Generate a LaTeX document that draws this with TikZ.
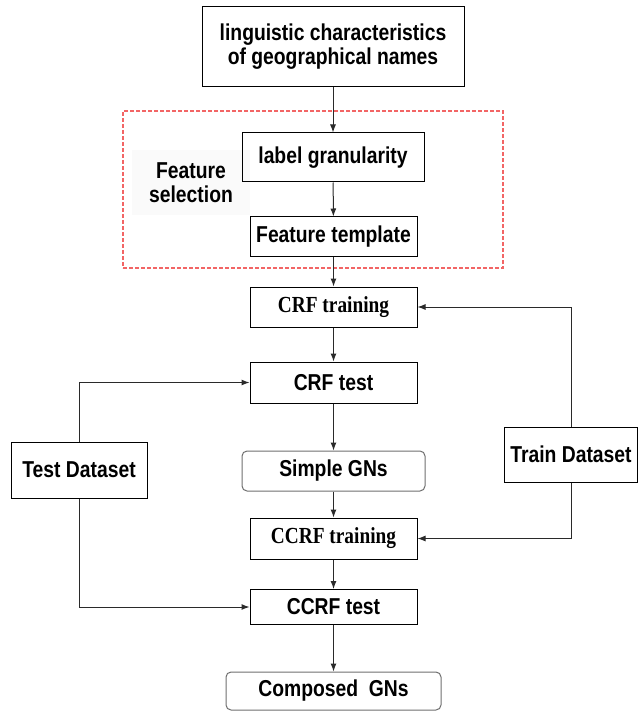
\documentclass[tikz,border=0pt]{standalone}
\usepackage{fontspec}
\setmainfont{Liberation Sans}[FakeStretch=0.84]
\newfontfamily\crffont{Liberation Serif}[FakeStretch=0.84]
\usepackage{tikz}
\usetikzlibrary{arrows.meta, positioning}
\definecolor{lineGray}{HTML}{2A2A2A}
\definecolor{dashRed}{HTML}{F26565}
\definecolor{roundGray}{HTML}{6E6E6E}

\begin{document}
\begin{tikzpicture}[x=1pt, y=-1pt,
  box/.style={draw=black, line width=1pt, inner sep=0pt, align=center,
    font=\fontsize{23}{24}\selectfont\bfseries},
  crfbox/.style={box, font=\fontsize{23}{24}\selectfont\crffont\bfseries},
  rbox/.style={box, draw=roundGray, rounded corners=5pt},
  flow/.style={-{Latex[length=8pt, width=6pt]}, lineGray, line width=1pt}]
  \useasboundingbox (0,0) rectangle (638,711);

  % Feature selection frame
  \node[draw=dashRed, line width=1.2pt, dash pattern=on 4pt off 2pt,
    minimum width=380pt, minimum height=157pt] (selframe) at (313,189.5) {};
  \node[fill=black!2, inner sep=0pt, align=center, minimum width=118pt, minimum height=65pt,
    font=\fontsize{23}{24}\selectfont\bfseries] (selname) at (191,182.5) {Feature\\selection};

  % Main column
  \node[box, minimum width=262pt, minimum height=80pt] (names) at (333,47)
    {linguistic characteristics\\of geographical names};
  \node[box, minimum width=182pt, minimum height=49pt] (gran) at (333,157.5) {label granularity};
  \node[box, minimum width=167pt, minimum height=39pt] (tmpl) at (333.5,236.5) {Feature template};
  \node[crfbox, minimum width=167pt, minimum height=40pt] (crftrain) at (333.5,307) {CRF training};
  \node[box, minimum width=167pt, minimum height=41pt] (crftest) at (333.5,382.5) {CRF test};
  \node[rbox, minimum width=183pt, minimum height=40pt] (simple) at (333.5,471) {Simple GNs};
  \node[crfbox, minimum width=167pt, minimum height=41pt] (ccrftrain) at (333.5,538.5) {CCRF training};
  \node[box, minimum width=167pt, minimum height=35pt] (ccrftest) at (333.5,607) {CCRF test};
  \node[rbox, minimum width=215pt, minimum height=38pt] (composed) at (333.5,691) {Composed\ \ GNs};

  % Datasets
  \node[box, minimum width=136pt, minimum height=56pt] (testset) at (79,470) {Test Dataset};
  \node[box, minimum width=133pt, minimum height=55pt] (trainset) at (571,454.5) {Train Dataset};

  % Flow
  \draw[flow] (names) -- (gran);
  \draw[flow] (gran) -- (tmpl);
  \draw[flow] (tmpl) -- (crftrain);
  \draw[flow] (crftrain) -- (crftest);
  \draw[flow] (crftest) -- (simple);
  \draw[flow] (simple) -- (ccrftrain);
  \draw[flow] (ccrftrain) -- (ccrftest);
  \draw[flow] (ccrftest) -- (composed);

  \draw[flow] (testset.north) |- (crftest.west);
  \draw[flow] (testset.south) |- (ccrftest.west);
  \draw[flow] (trainset.north) |- (crftrain.east);
  \draw[flow] (trainset.south) |- (ccrftrain.east);
\end{tikzpicture}
\end{document}
